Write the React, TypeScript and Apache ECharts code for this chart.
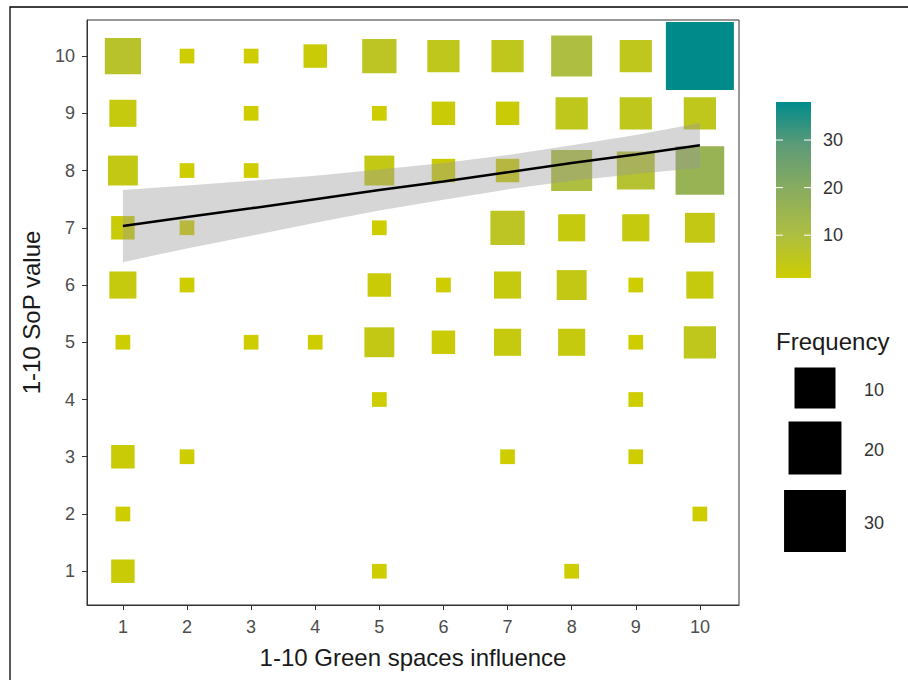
import React, { useEffect, useRef } from "react";
import * as echarts from "echarts";

// ---- data ----
const xTicks = [1, 2, 3, 4, 5, 6, 7, 8, 9, 10];
const yTicks = [1, 2, 3, 4, 5, 6, 7, 8, 9, 10];

// Frequency of each (x, y) pair, one array per SoP value (index = green-space value 1..10)
const row10 = [7, 1, 1, 2, 6, 5, 5, 10, 5, 38];
const row9 = [3, 0, 1, 0, 1, 2, 2, 5, 5, 5];
const row8 = [4, 1, 1, 0, 4, 2, 2, 10, 8, 16];
const row7 = [2, 1, 0, 0, 1, 0, 6, 3, 3, 4];
const row6 = [3, 1, 0, 0, 2, 1, 3, 4, 1, 3];
const row5 = [1, 0, 1, 1, 4, 2, 3, 3, 1, 5];
const row4 = [0, 0, 0, 0, 1, 0, 0, 0, 1, 0];
const row3 = [2, 1, 0, 0, 0, 0, 1, 0, 1, 0];
const row2 = [1, 0, 0, 0, 0, 0, 0, 0, 0, 1];
const row1 = [2, 0, 0, 0, 1, 0, 0, 1, 0, 0];
const rows = [row1, row2, row3, row4, row5, row6, row7, row8, row9, row10];

// Linear fit with 95% confidence band
const fitX = [1, 2, 3, 4, 5, 6, 7, 8, 9, 10];
const fitY = [7.03, 7.19, 7.34, 7.5, 7.66, 7.81, 7.97, 8.13, 8.28, 8.44];
const fitLower = [6.4, 6.64, 6.86, 7.09, 7.3, 7.49, 7.67, 7.82, 7.94, 8.05];
const fitUpper = [7.66, 7.74, 7.82, 7.91, 8.02, 8.13, 8.27, 8.44, 8.62, 8.83];

const colorbarTicks = [10, 20, 30];
const sizeLegendValues = [10, 20, 30];

const xTitle = "1-10 Green spaces influence";
const yTitle = "1-10 SoP value";
const legendTitle = "Frequency";

// ---- styling ----
const FONT = "'Liberation Sans', Arial, Helvetica, sans-serif";
const colorStops = ["#CDCD00", "#ADBE42", "#8AAC5F", "#5F9B77", "#008B8B"];

export default function App() {
  const ref = useRef<HTMLDivElement>(null);

  useEffect(() => {
    if (!ref.current) return;
    const chart = echarts.init(ref.current, null, { renderer: "svg" });

    const points: number[][] = [];
    rows.forEach((row, yi) => {
      row.forEach((n, xi) => {
        if (n > 0) points.push([xTicks[xi], yTicks[yi], n]);
      });
    });
    const counts = points.map((p) => p[2]);
    const cMin = Math.min(...counts);
    const cMax = Math.max(...counts);
    const sizeOf = (n: number) =>
      10.66 * (1 + 5 * Math.sqrt((n - cMin) / (cMax - cMin))) + 4.05;

    // colorbar geometry
    const barX = 776, barY = 102, barW = 35, barH = 176;
    const barYOf = (v: number) => barY + barH - ((v - cMin) / (cMax - cMin)) * barH;
    const gradStops = colorStops
      .map((c, i) => ({ offset: 1 - i / (colorStops.length - 1), color: c }))
      .reverse();

    const graphics: any[] = [
      {
        type: "rect",
        shape: { x: 10, y: 7, width: 1000, height: 1000 },
        style: { fill: "none", stroke: "#000", lineWidth: 1.3 },
        silent: true,
      },
      {
        type: "rect",
        shape: { x: barX, y: barY, width: barW, height: barH },
        style: { fill: new echarts.graphic.LinearGradient(0, 0, 0, 1, gradStops) },
      },
    ];
    colorbarTicks.forEach((v) => {
      const y = barYOf(v);
      graphics.push(
        { type: "line", shape: { x1: barX, y1: y, x2: barX + 7, y2: y }, style: { stroke: "#fff", lineWidth: 1 } },
        { type: "line", shape: { x1: barX + barW - 7, y1: y, x2: barX + barW, y2: y }, style: { stroke: "#fff", lineWidth: 1 } },
        {
          type: "text",
          x: 823,
          y: y,
          style: { text: String(v), font: `18px ${FONT}`, fill: "#333", verticalAlign: "middle", align: "left" },
        }
      );
    });
    graphics.push({
      type: "text",
      x: 776,
      y: 341,
      style: { text: legendTitle, font: `24px ${FONT}`, fill: "#1a1a1a", verticalAlign: "middle", align: "left" },
    });
    const keyCentersY = [388, 448, 521];
    sizeLegendValues.forEach((v, i) => {
      const s = sizeOf(v);
      const cy = keyCentersY[i];
      graphics.push(
        { type: "rect", shape: { x: 815 - s / 2, y: cy - s / 2, width: s, height: s }, style: { fill: "#000" } },
        {
          type: "text",
          x: 864,
          y: cy + 2,
          style: { text: String(v), font: `18px ${FONT}`, fill: "#333", verticalAlign: "middle", align: "left" },
        }
      );
    });

    const axisCommon = {
      type: "value" as const,
      splitLine: { show: false },
      axisLine: { show: true, lineStyle: { color: "#333", width: 1 } },
      nameLocation: "middle" as const,
      nameTextStyle: { fontSize: 24, color: "#1a1a1a", fontFamily: FONT },
    };

    chart.setOption({
      animation: false,
      backgroundColor: "#fff",
      textStyle: { fontFamily: FONT },
      grid: {
        left: 87,
        top: 20,
        width: 652,
        height: 585,
        show: true,
        borderColor: "#333",
        borderWidth: 1,
        backgroundColor: "transparent",
      },
      xAxis: {
        ...axisCommon,
        min: 0.44,
        max: 10.61,
        name: xTitle,
        nameGap: 40,
        axisTick: { show: true, customValues: xTicks, length: 5, lineStyle: { color: "#333" } },
        axisLabel: { customValues: xTicks, color: "#4d4d4d", fontSize: 18, margin: 13, fontFamily: FONT },
      },
      yAxis: {
        ...axisCommon,
        min: 0.41,
        max: 10.63,
        name: yTitle,
        nameGap: 44,
        nameRotate: 90,
        axisTick: { show: true, customValues: yTicks, length: 5, lineStyle: { color: "#333" } },
        axisLabel: { customValues: yTicks, color: "#4d4d4d", fontSize: 18, margin: 12, fontFamily: FONT },
      },
      visualMap: {
        show: false,
        type: "continuous",
        dimension: 2,
        seriesIndex: 0,
        min: cMin,
        max: cMax,
        inRange: { color: colorStops },
      },
      graphic: graphics,
      series: [
        {
          type: "scatter",
          symbol: "rect",
          data: points,
          symbolSize: (val: number[]) => sizeOf(val[2]),
          itemStyle: { opacity: 1 },
          z: 2,
        },
        {
          type: "custom",
          data: [[fitX[0], fitY[0]]],
          clip: true,
          z: 3,
          renderItem: (params: any, api: any) => {
            if (params.dataIndex !== 0) return null;
            const pts: number[][] = [];
            fitX.forEach((x, i) => pts.push(api.coord([x, fitUpper[i]])));
            for (let i = fitX.length - 1; i >= 0; i--) pts.push(api.coord([fitX[i], fitLower[i]]));
            return {
              type: "polygon",
              shape: { points: pts },
              style: { fill: "rgba(153,153,153,0.4)" },
            };
          },
        },
        {
          type: "line",
          data: fitX.map((x, i) => [x, fitY[i]]),
          symbol: "none",
          lineStyle: { color: "#000", width: 2.5 },
          z: 4,
        },
      ],
    });

    return () => chart.dispose();
  }, []);

  return (
    <div
      ref={ref}
      style={{ position: "fixed", left: 0, top: 0, width: 908, height: 680, background: "#fff" }}
    />
  );
}
